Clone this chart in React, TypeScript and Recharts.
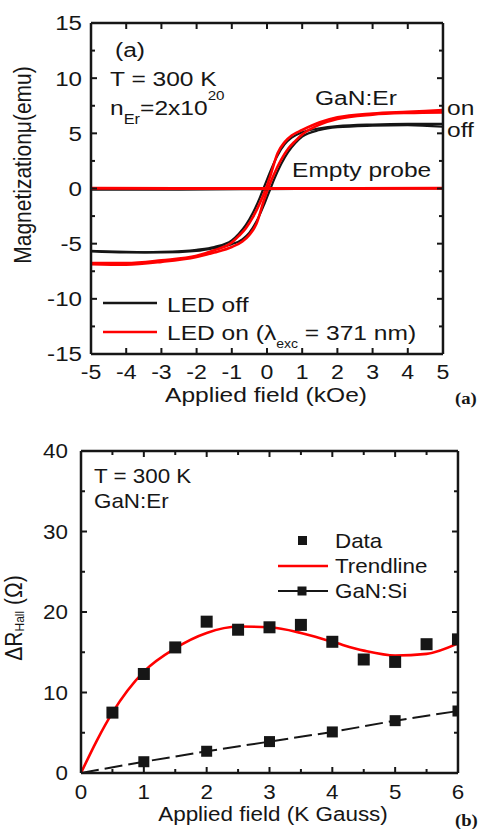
import React from 'react';
import { ComposedChart, Line, Scatter, XAxis, YAxis } from 'recharts';

const INK = '#161616';
const RED = '#ff0000';
const FONT = '"Liberation Sans", Arial, Helvetica, sans-serif';
const SERIF = '"Liberation Serif", "Times New Roman", serif';

// ---- panel (a): magnetisation loops, field in kOe, moment in micro-emu ----
const offDescH = [-5, -4, -3, -2, -1.5, -1, -0.8, -0.6, -0.4, -0.2, -0.1, 0, 0.1, 0.3, 0.5, 0.7, 1, 1.5, 2, 3, 4, 5];
const offDescM = [-5.7, -5.8, -5.75, -5.55, -5.3, -4.7, -4.1, -3.3, -2.2, -0.8, 0, 0.8, 1.6, 3.0, 4.0, 4.6, 5.1, 5.45, 5.65, 5.8, 5.85, 5.85];
const offAscH = [-5, -4, -3, -2, -1.5, -1, -0.7, -0.5, -0.3, -0.1, 0, 0.1, 0.2, 0.4, 0.6, 0.8, 1, 1.5, 2, 3, 4, 5];
const offAscM = [-5.65, -5.75, -5.8, -5.65, -5.4, -5.05, -4.6, -4.0, -3.0, -1.6, -0.8, 0, 0.8, 2.2, 3.3, 4.1, 4.7, 5.3, 5.55, 5.7, 5.75, 5.6];

const onDescH = [-5, -4, -3, -2, -1.5, -1, -0.8, -0.6, -0.4, -0.2, -0.03, 0.1, 0.3, 0.5, 0.7, 1, 1.5, 2, 3, 4, 5];
const onDescM = [-6.75, -6.75, -6.5, -6.1, -5.6, -4.9, -4.3, -3.6, -2.6, -1.3, 0, 1.2, 3.2, 4.2, 4.8, 5.3, 6.0, 6.45, 6.8, 6.95, 7.1];
const onAscH = [-5, -4, -3, -2, -1.5, -1, -0.7, -0.5, -0.3, -0.1, 0.03, 0.2, 0.4, 0.6, 0.8, 1, 1.5, 2, 3, 4, 5];
const onAscM = [-6.85, -6.9, -6.65, -6.2, -5.8, -5.3, -4.8, -4.2, -3.2, -1.2, 0, 1.3, 2.6, 3.6, 4.3, 4.9, 5.8, 6.3, 6.7, 6.85, 6.9];

const probeH = [-5, -2.5, 0, 2.5, 5];
const probeOffM = [-0.1, -0.1, -0.05, 0, 0];
const probeOnM = [0.02, 0, 0, 0, 0.02];

const hTicks = [-5, -4, -3, -2, -1, 0, 1, 2, 3, 4, 5];
const mTicks = [-15, -10, -5, 0, 5, 10, 15];
const mMinor = [-12.5, -7.5, -2.5, 2.5, 7.5, 12.5];

// ---- panel (b): Hall resistance change vs field (kG) ----
const dataKG = [0.5, 1, 1.5, 2, 2.5, 3, 3.5, 4, 4.5, 5, 5.5, 6];
const dataR = [7.5, 12.3, 15.6, 18.8, 17.8, 18.1, 18.4, 16.3, 14.1, 13.8, 16.0, 16.6];
const trendKG = [0, 0.25, 0.5, 1, 1.5, 2, 2.5, 3, 3.5, 4, 4.5, 5, 5.5, 6];
const trendR = [0, 4.0, 7.5, 12.6, 15.5, 17.4, 18.2, 18.1, 17.4, 16.3, 15.2, 14.6, 14.8, 16.1];
const siKG = [0, 1, 2, 3, 4, 5, 6];
const siR = [0, 1.4, 2.7, 3.9, 5.1, 6.5, 7.7];

const bTicks = [0, 1, 2, 3, 4, 5, 6];
const bMinor = [0.5, 1.5, 2.5, 3.5, 4.5, 5.5];
const rTicks = [0, 10, 20, 30, 40];
const rMinor = [5, 15, 25, 35];

const pairs = (xs: number[], ys: number[]) => xs.map((x, i) => ({ x, y: ys[i] }));

const xTick = (size: number, sx: number) => (p: any) => (
  <text transform={`translate(${p.x},${p.y}) scale(${sx},1)`} textAnchor="middle" dy="0.71em"
    fontSize={size} fontFamily={FONT} fill={INK}>{p.payload.value}</text>
);
const yTick = (size: number, sx: number) => (p: any) => (
  <text transform={`translate(${p.x},${p.y}) scale(${sx},1)`} textAnchor="end" dy="0.355em"
    fontSize={size} fontFamily={FONT} fill={INK}>{p.payload.value}</text>
);
const NoTick = () => <g />;

const frame = { stroke: INK, strokeWidth: 2.5 };
const tickLn = { stroke: INK, strokeWidth: 2 };
const THIN = 0.01; // helper axes take (almost) no room

// helper axes for the inward minor ticks and the top / right frame.
// They are declared before the labelled axes so they sit right on the plot edge.
function helperAxes(xd: number[], xMaj: number[], xMin: number[], yd: number[], yMaj: number[], yMin: number[],
  anchor: { x: number; y: number }[]) {
  const hx = { type: 'number' as const, dataKey: 'x', allowDataOverflow: true, tick: NoTick, tickLine: tickLn, interval: 0 as const, height: THIN };
  const hy = { type: 'number' as const, dataKey: 'y', allowDataOverflow: true, tick: NoTick, tickLine: tickLn, interval: 0 as const, width: THIN };
  const ghost = (id: string, xa: string, ya: string) => (
    <Line key={id} data={anchor} dataKey="y" xAxisId={xa} yAxisId={ya} stroke="none" dot={false}
      activeDot={false} isAnimationActive={false} legendType="none" />
  );
  const out = [
    <XAxis key="tM" xAxisId="tM" orientation="top" domain={xd} ticks={xMaj} tickSize={-6} axisLine={frame} {...hx} />,
    <YAxis key="rM" yAxisId="rM" orientation="right" domain={yd} ticks={yMaj} tickSize={-6} axisLine={frame} {...hy} />,
    <YAxis key="lm" yAxisId="lm" orientation="left" domain={yd} ticks={yMin} tickSize={-4} axisLine={false} {...hy} />,
    <YAxis key="rm" yAxisId="rm" orientation="right" domain={yd} ticks={yMin} tickSize={-4} axisLine={false} {...hy} />,
    ghost('g1', 'tM', 'rM'),
  ];
  if (xMin.length) {
    out.push(
      <XAxis key="bm" xAxisId="bm" orientation="bottom" domain={xd} ticks={xMin} tickSize={-4} axisLine={false} {...hx} />,
      <XAxis key="tm" xAxisId="tm" orientation="top" domain={xd} ticks={xMin} tickSize={-4} axisLine={false} {...hx} />,
      ghost('g2', 'bm', 'lm'),
      ghost('g3', 'tm', 'rm'),
    );
  } else {
    out.push(ghost('g2', 'tM', 'lm'), ghost('g3', 'tM', 'rm'));
  }
  return out;
}

const SquareShape = (p: any) => <rect x={p.cx - 6} y={p.cy - 6} width={12} height={12} fill={INK} />;
const SiDot = (p: any) =>
  p.payload.x === 0 ? <g key={`si${p.index}`} /> :
    <rect key={`si${p.index}`} x={p.cx - 5.5} y={p.cy - 5.5} width={11} height={11} fill={INK} />;

type TxtProps = {
  x: number; y: number; size?: number; sx?: number; anchor?: 'start' | 'middle' | 'end';
  family?: string; weight?: number | string; rotate?: boolean; children: React.ReactNode;
};
const Txt = ({ x, y, size = 21, sx = 1.17, anchor = 'start', family = FONT, weight, rotate, children }: TxtProps) => (
  <text transform={`translate(${x},${y}) scale(${sx},1)${rotate ? ' rotate(-90)' : ''}`}
    textAnchor={anchor} fontSize={size} fontFamily={family} fontWeight={weight} fill={INK}>
    {children}
  </text>
);

const lineProps = { type: 'monotone' as const, dataKey: 'y', dot: false, isAnimationActive: false, xAxisId: 'x', yAxisId: 'y' };

const PanelA = () => (
  <ComposedChart width={482} height={410} margin={{ top: 23, right: 39, bottom: 26, left: 31 }}>
    {helperAxes([-5, 5], hTicks, [], [-15, 15], mTicks, mMinor, pairs(probeH, probeOnM))}
    <XAxis xAxisId="x" type="number" dataKey="x" domain={[-5, 5]} ticks={hTicks} interval={0} allowDataOverflow
      tickLine={tickLn} tickSize={-6} tickMargin={16} height={30} axisLine={frame} tick={xTick(21, 1.1)} />
    <YAxis yAxisId="y" type="number" dataKey="y" domain={[-15, 15]} ticks={mTicks} interval={0} allowDataOverflow
      tickLine={tickLn} tickSize={-6} tickMargin={15} width={60} axisLine={frame} tick={yTick(21, 1.15)} />
    <Line {...lineProps} data={pairs(offDescH, offDescM)} stroke={INK} strokeWidth={2.2} />
    <Line {...lineProps} data={pairs(offAscH, offAscM)} stroke={INK} strokeWidth={2.2} />
    <Line {...lineProps} data={pairs(onDescH, onDescM)} stroke={RED} strokeWidth={2.6} />
    <Line {...lineProps} data={pairs(onAscH, onAscM)} stroke={RED} strokeWidth={2.6} />
    <Line {...lineProps} data={pairs(probeH, probeOffM)} stroke={INK} strokeWidth={2.2} />
    <Line {...lineProps} data={pairs(probeH, probeOnM)} stroke={RED} strokeWidth={3} />
  </ComposedChart>
);

const PanelB = () => (
  <ComposedChart width={482} height={419} margin={{ top: 41, right: 24, bottom: 26, left: 31 }}>
    {helperAxes([0, 6], bTicks, bMinor, [0, 40], rTicks, rMinor, pairs(siKG, siR))}
    <XAxis xAxisId="x" type="number" dataKey="x" domain={[0, 6]} ticks={bTicks} interval={0} allowDataOverflow
      tickLine={tickLn} tickSize={-6} tickMargin={18} height={30} axisLine={frame} tick={xTick(20, 1.12)} />
    <YAxis yAxisId="y" type="number" dataKey="y" domain={[0, 40]} ticks={rTicks} interval={0} allowDataOverflow
      tickLine={tickLn} tickSize={-6} tickMargin={19} width={50} axisLine={frame} tick={yTick(20, 1.12)} />
    <Line {...lineProps} data={pairs(siKG, siR)} type="linear" stroke={INK} strokeWidth={2}
      strokeDasharray="18 6" dot={SiDot} />
    <Line {...lineProps} data={pairs(trendKG, trendR)} stroke={RED} strokeWidth={2.6} />
    <Scatter xAxisId="x" yAxisId="y" data={pairs(dataKG, dataR)} dataKey="y" shape={SquareShape}
      isAnimationActive={false} fill={INK} />
  </ComposedChart>
);

const Overlay = () => (
  <svg width={482} height={829} style={{ position: 'absolute', left: 0, top: 0, pointerEvents: 'none' }}>
    {/* panel (a) annotations */}
    <Txt x={115} y={57}>(a)</Txt>
    <Txt x={110} y={86}>T = 300 K</Txt>
    <Txt x={110} y={115}>
      n<tspan fontSize={14} dy={9}>Er</tspan><tspan dy={-9}>=2x10</tspan><tspan fontSize={13} dy={-15}>20</tspan>
    </Txt>
    <Txt x={315} y={105}>GaN:Er</Txt>
    <Txt x={447} y={115}>on</Txt>
    <Txt x={447} y={137}>off</Txt>
    <Txt x={292} y={177}>Empty probe</Txt>
    <line x1={103} x2={157} y1={303} y2={303} stroke={INK} strokeWidth={2.5} />
    <Txt x={167} y={311.5}>LED off</Txt>
    <line x1={103} x2={157} y1={332} y2={332} stroke={RED} strokeWidth={2.5} />
    <Txt x={167} y={340}>
      LED on (λ<tspan fontSize={12} dy={8}>exc</tspan><tspan dy={-8}> = 371 nm)</tspan>
    </Txt>
    <Txt x={266} y={401.5} anchor="middle">Applied field (kOe)</Txt>
    <Txt x={31} y={165} size={21} sx={1.15} anchor="middle" rotate>Magnetizationμ(emu)</Txt>
    <Txt x={455} y={404} size={17} sx={1.1} family={SERIF} weight="bold">(a)</Txt>

    {/* panel (b) annotations */}
    <Txt x={94} y={483} size={20} sx={1.12}>T = 300 K</Txt>
    <Txt x={94} y={508} size={20} sx={1.12}>GaN:Er</Txt>
    <rect x={298} y={536} width={9} height={9} fill={INK} />
    <Txt x={335} y={548} size={20} sx={1.12}>Data</Txt>
    <line x1={278} x2={328} y1={566} y2={566} stroke={RED} strokeWidth={2.5} />
    <Txt x={335} y={573} size={20} sx={1.12}>Trendline</Txt>
    <line x1={278} x2={328} y1={591} y2={591} stroke={INK} strokeWidth={2} />
    <rect x={297.5} y={586.5} width={9} height={9} fill={INK} />
    <Txt x={335} y={598} size={20} sx={1.12}>GaN:Si</Txt>
    <Txt x={273} y={821} size={21} sx={1.07} anchor="middle">Applied field (K Gauss)</Txt>
    <Txt x={22} y={618} size={21} sx={1.1} anchor="middle" rotate>
      ΔR<tspan fontSize={12} dy={2}>Hall</tspan><tspan dy={-2}> (Ω)</tspan>
    </Txt>
    <Txt x={455} y={826} size={17} sx={1.1} family={SERIF} weight="bold">(b)</Txt>
  </svg>
);

export default function App() {
  return (
    <div style={{ position: 'absolute', left: 0, top: 0, width: 482, height: 829, background: '#fff' }}>
      <div style={{ position: 'absolute', left: 0, top: 0 }}>
        <PanelA />
      </div>
      <div style={{ position: 'absolute', left: 0, top: 410 }}>
        <PanelB />
      </div>
      <Overlay />
    </div>
  );
}
